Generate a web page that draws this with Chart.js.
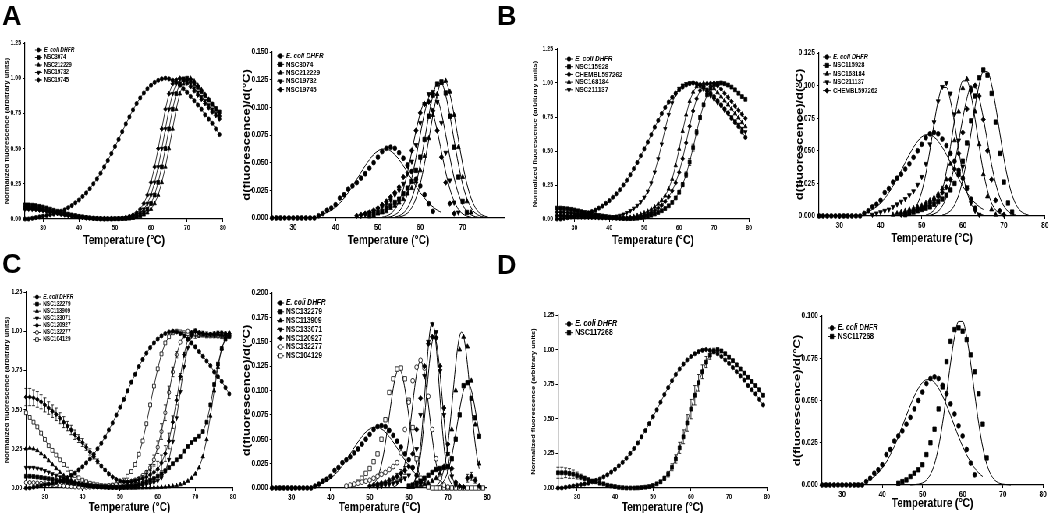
<!DOCTYPE html>
<html><head><meta charset="utf-8">
<script src="https://cdn.jsdelivr.net/npm/chart.js@4.4.1/dist/chart.umd.min.js"></script>
<style>
html,body{margin:0;padding:0;background:#fff}
body{width:1050px;height:513px;overflow:hidden;position:relative}
#sq{position:absolute;left:0;top:0;width:1347px;height:513px;transform:scaleX(0.78);transform-origin:0 0}
.pl{position:absolute;font-family:'Liberation Sans',Arial,sans-serif;font-weight:bold;font-size:27px;line-height:27px;color:#000}
</style></head><body>
<div id="sq"></div>
<div class="pl" style="left:2px;top:3px">A</div>
<div class="pl" style="left:497px;top:3px">B</div>
<div class="pl" style="left:2px;top:251px">C</div>
<div class="pl" style="left:497px;top:252px">D</div>
<script>
const SQ = 0.78;
const FONT = "'Liberation Sans', Arial, Helvetica, sans-serif";

// ---------- categories / ticks ----------
const temps = [25,26,27,28,29,30,31,32,33,34,35,36,37,38,39,40,41,42,43,44,45,46,47,48,49,50,51,52,53,54,55,56,57,58,59,60,61,62,63,64,65,66,67,68,69,70,71,72,73,74,75,76,77,78,79];
const xTicks = [30,40,50,60,70,80];
const xTicksA = [30,40,50,60,70];
const normTicks = [0,0.25,0.5,0.75,1,1.25];
const derTicksA = [0,0.025,0.05,0.075,0.1,0.125,0.15];
const derTicksB = [0,0.025,0.05,0.075,0.1,0.125];
const derTicksC = [0,0.025,0.05,0.075,0.1,0.125,0.15,0.175,0.2];
const derTicksD = [0,0.025,0.05,0.075,0.1];
const NORM_T = 'Normalized fluorescence (arbitrary units)';
const DER_T = 'd(fluorescence)/d(°C)';
const X_T = 'Temperature (°C)';
const DHFR = 'E. coli DHFR';

// ---------- E. coli DHFR (control, shared) ----------
const dhfrNorm = [0,0,.005,.01,.015,.02,.025,.03,.035,.045, .055,.065,.08,.095,.115,.135,.16,.185,.215,.25, .285,.325,.37,.415,.465,.515,.565,.62,.675,.725, .775,.82,.86,.895,.925,.95,.97,.985,.995,1.0, .995,.985,.97,.95,.925,.9,.87,.84,.81,.78, .74,.71,.68,.64,.6];
const dhfrDerFrom = 25;
const dhfrDer = [0,0,0,0,0,0,0,0,0,0,0, .002,.004,.007,.009,.012,.018,.021,.026,.029,.032,.036,.040,.045,.050,.055,.060,.063,.064,.063,.059,.054,.048,.042,.035,.029,.021,.013,.006];
const dhfrFitFrom = 36;
const dhfrFit = [.0022,.0034,.0050,.0071,.0100,.0135,.0179,.0229,.0286,.0348,.0411,.0472,.0527,.0573,.0606,.0623,.0623,.0606,.0573,.0527,.0472,.0411,.0348,.0286,.0229,.0179,.0135,.0100,.0071,.0050];

// ---------- Panel A ----------
const aNorm3074 = [.100,.100,.098,.095,.090,.085,.078,.070,.062,.055, .048,.041,.035,.029,.024,.019,.015,.011,.008,.005, .003,.002,.001,.001,.001,.002,.002,.003,.004,.007, .012,.02,.03,.045,.07,.11,.17,.26,.37,.50, .64,.78,.89,.96,.99,1.0,.985,.96,.935,.905, .875,.845,.815,.785,.76];
const aNorm212229 = [.080,.080,.078,.076,.072,.068,.062,.056,.050,.044, .038,.033,.028,.023,.019,.015,.012,.009,.006,.004, .003,.002,.001,.001,.001,.001,.002,.002,.003,.004, .007,.012,.02,.03,.045,.07,.11,.17,.26,.37, .50,.64,.78,.89,.96,.99,1.0,.98,.95,.92, .885,.85,.815,.775,.74];
const aNorm19732 = [.080,.080,.078,.076,.072,.068,.062,.056,.050,.044, .038,.033,.028,.023,.019,.015,.012,.009,.006,.004, .003,.002,.002,.002,.002,.003,.003,.004,.007,.012, .02,.03,.045,.07,.11,.17,.26,.37,.50,.64, .78,.89,.96,.99,1.0,.985,.96,.93,.90,.87, .84,.81,.78,.75,.72];
const aNorm19745 = [.070,.070,.069,.067,.063,.060,.055,.049,.043,.039, .034,.029,.025,.020,.017,.013,.011,.008,.006,.004, .003,.002,.002,.002,.003,.003,.004,.007,.012,.02, .03,.045,.07,.11,.17,.26,.37,.50,.64,.78, .89,.96,.99,1.0,.985,.965,.94,.91,.88,.85, .82,.79,.76,.735,.71];
const aDer3074From = 48,  aDer3074 = [.002,.004,.005,.006,.009,.011,.014,.017,.022,.027,.033,.043,.055,.071,.092,.111,.121,.123,.113,.092,.064,.037,.015,.005];
const aDer212229From = 49, aDer212229 = [.002,.004,.005,.006,.009,.011,.014,.017,.022,.027,.033,.043,.056,.072,.093,.112,.122,.124,.114,.093,.064,.037,.015,.005];
const aDer19732From = 46, aDer19732 = [.002,.003,.005,.006,.008,.010,.013,.016,.021,.025,.031,.040,.051,.066,.086,.103,.112,.114,.105,.086,.059,.034,.014,.005];
const aDer19745From = 45, aDer19745 = [.002,.003,.004,.005,.007,.009,.012,.015,.019,.023,.028,.037,.047,.061,.079,.095,.103,.105,.097,.079,.055,.032,.013,.004];
const aFit3074From = 54, aFit3074 = [.0008,.0020,.0044,.0093,.0177,.0306,.0486,.0701,.0923,.1109,.1216,.1216,.1109,.0923,.0701,.0486,.0306,.0177,.0093,.0044,.0020,.0008];
const aFit212229From = 55, aFit212229 = [.0008,.0020,.0045,.0094,.0179,.0309,.0490,.0707,.0930,.1118,.1226,.1226,.1118,.0930,.0707,.0490,.0309,.0179,.0094,.0045,.0020,.0008];
const aFit19732From = 52, aFit19732 = [.0004,.0012,.0028,.0060,.0120,.0219,.0361,.0547,.0755,.0948,.1089,.1140,.1089,.0948,.0755,.0547,.0361,.0219,.0120,.0060,.0028,.0012,.0004];
const aFit19745From = 51, aFit19745 = [.0007,.0017,.0038,.0079,.0151,.0261,.0415,.0599,.0788,.0947,.1038,.1038,.0947,.0788,.0599,.0415,.0261,.0151,.0079,.0038,.0017,.0007];

// ---------- Panel B ----------
const bNorm115928 = [.080,.080,.078,.075,.071,.066,.060,.054,.048,.042, .036,.031,.026,.022,.018,.014,.011,.008,.006,.004, .003,.003,.004,.006,.010,.015,.021,.028,.037,.048, .061,.077,.097,.122,.155,.197,.253,.326,.419,.525, .638,.746,.840,.913,.961,.987,.997,1.0,.995,.985, .97,.95,.925,.90,.88];
const bErr115928 = [0,0,0,0,0,0,0,0,0,0, 0,0,0,0,0,0,0,0,0,0, 0,0,0,0,0,0,0,0,0,0, 0,0,0,0,0,.01,.015,.02,.025,.025, .02,.015,0,0,0,0,0,0,0,0, 0,0,0,0,0];
const bNormChembl = [.050,.050,.049,.047,.044,.041,.038,.034,.030,.026, .023,.020,.017,.014,.012,.010,.008,.006,.005,.004, .004,.005,.007,.012,.018,.026,.035,.048,.062,.080, .102,.129,.163,.207,.266,.343,.443,.560,.682,.794, .884,.945,.979,.994,.999,1.0,.98,.955,.925,.895, .865,.83,.80,.77,.74];
const bNorm168184 = [.030,.030,.029,.028,.026,.024,.022,.020,.018,.016, .014,.012,.010,.008,.007,.006,.005,.005,.005,.006, .008,.012,.019,.026,.035,.045,.057,.072,.089,.111, .137,.171,.221,.293,.393,.514,.645,.766,.866,.934, .974,.993,.999,1.0,.985,.96,.93,.90,.87,.84, .81,.775,.745,.71,.68];
const bNorm211137 = [.020,.020,.020,.019,.018,.017,.016,.015,.014,.013, .012,.011,.010,.010,.010,.012,.015,.020,.026,.035, .046,.061,.078,.099,.126,.159,.203,.264,.344,.441, .550,.663,.767,.853,.917,.959,.983,.994,1.0,1.0, .99,.975,.955,.93,.905,.88,.855,.83,.80,.775, .75,.72,.695,.665,.64];
const bDer115928From = 46, bDer115928 = [.001,.002,.003,.004,.005,.006,.007,.009,.011,.013,.016,.020,.025,.032,.042,.056,.073,.092,.106,.112,.108,.094,.072,.048,.026,.010,.003];
const bDer168184From = 43, bDer168184 = [.001,.002,.003,.004,.005,.006,.007,.008,.010,.012,.014,.017,.021,.028,.040,.058,.080,.098,.105,.098,.080,.055,.032,.015,.005,.001];
const bDer211137From = 38, bDer211137 = [.001,.002,.003,.004,.005,.007,.009,.011,.013,.016,.019,.024,.030,.040,.055,.072,.088,.099,.102,.094,.078,.058,.038,.022,.010,.004,.001];
const bDerChemblFrom = 45, bDerChembl = [.001,.002,.003,.004,.005,.006,.008,.010,.012,.015,.018,.022,.028,.036,.048,.064,.082,.096,.100,.092,.074,.050,.028,.012,.004,.001];
const bFit115928From = 55, bFit115928 = [.0007,.0018,.0040,.0085,.0161,.0279,.0442,.0638,.0840,.1010,.1107,.1107,.1010,.0840,.0638,.0442,.0279,.0161,.0085,.0040,.0018,.0007];
const bFit168184From = 51, bFit168184 = [.0007,.0019,.0046,.0100,.0196,.0341,.0532,.0742,.0927,.1036,.1036,.0927,.0742,.0532,.0341,.0196,.0100,.0046,.0019,.0007];
const bFit211137From = 46, bFit211137 = [.0007,.0018,.0044,.0096,.0186,.0325,.0506,.0707,.0883,.0986,.0986,.0883,.0707,.0506,.0325,.0186,.0096,.0044,.0018,.0007];
const bFitChemblFrom = 52, bFitChembl = [.0006,.0016,.0036,.0076,.0144,.0249,.0395,.0570,.0750,.0902,.0989,.0989,.0902,.0750,.0570,.0395,.0249,.0144,.0076,.0036,.0016,.0006];

// ---------- Panel C ----------
const cNorm132279 = [.075,.075,.073,.070,.067,.063,.059,.055,.050,.046, .042,.037,.033,.029,.025,.021,.018,.015,.012,.010, .008,.006,.005,.005,.005,.006,.008,.010,.013,.017, .022,.030,.040,.050,.060,.075,.090,.110,.130,.155, .180,.200,.235,.265,.290,.310,.330,.360,.420,.530, .660,.790,.890,.950,.970];
const cNorm113909 = [.25,.255,.25,.24,.22,.20,.175,.15,.125,.10, .08,.065,.05,.04,.03,.023,.017,.012,.009,.006, .004,.003,.002,.001,.001,0,0,0,0,0, .001,.001,.002,.002,.003,.004,.005,.007,.009,.012, .016,.022,.03,.044,.063,.09,.13,.20,.31,.46, .62,.77,.89,.96,.99];
const cNorm133071 = [.13,.13,.13,.125,.12,.11,.10,.09,.08,.07, .06,.05,.042,.035,.028,.022,.017,.013,.010,.008, .006,.005,.004,.004,.004,.004,.005,.006,.008,.010, .013,.017,.022,.028,.036,.046,.066,.106,.181,.296, .446,.614,.774,.894,.969,1.0,.99,.985,.98,.98, .975,.975,.97,.97,.97];
const cNorm120927 = [.58,.58,.575,.565,.55,.53,.51,.49,.47,.445, .42,.395,.37,.34,.315,.29,.26,.23,.20,.17, .14,.115,.09,.07,.055,.045,.04,.038,.04,.045, .052,.06,.07,.085,.10,.12,.16,.22,.30,.42, .56,.71,.85,.95,.99,1.0,.99,.985,.98,.98, .985,.99,.99,.985,.985];
const cErr120927 = [.055,.055,.05,.05,.045,.045,.04,.04,.04,.035, .035,.03,.03,.03,.025,.025,.02,.02,.015,.015, .01,.01,.01,.005,.005,.005,.005,.005,.005,.01, .015,.02,.025,.03,.04,.05,.05,.05,.05,.04, .03,.02,.015,.01,.01,.01,.01,.015,.015,.01, .01,.01,.01,.01,.01];
const cNorm132277 = [.035,.035,.034,.032,.030,.028,.025,.022,.019,.016, .013,.011,.009,.007,.006,.005,.005,.005,.006,.007, .009,.011,.014,.017,.021,.025,.030,.036,.043,.051, .06,.08,.10,.13,.18,.26,.36,.48,.61,.74, .85,.93,.98,1.0,.99,.985,.98,.98,.975,.975, .975,.97,.97,.97,.97];
const cErr132277 = [0,0,0,0,0,0,0,0,0,0, 0,0,0,0,0,0,0,0,0,0, 0,0,0,0,0,0,0,0,0,0, 0,0,.01,.02,.03,.04,.05,.05,.04,.03, .02,0,0,0,0,.03,.02,0,0,0, 0,0,0,0,0];
const cNorm104129 = [.48,.45,.42,.39,.35,.31,.27,.24,.21,.18, .15,.12,.10,.08,.065,.05,.04,.03,.025,.02, .015,.013,.014,.018,.025,.035,.05,.075,.105,.15, .215,.30,.41,.53,.65,.76,.855,.925,.965,.99, 1.0,.995,.99,.985,.98,.98,.975,.975,.97,.97, .97,.97,.965,.965,.965];
const cDer132279From = 60, cDer132279 = [.002,.003,.005,.007,.010,.013,.016,.019,.020,.021,.022,.030,.050,.075,.105,.108,.092,.072,.053];
const cDer113909From = 60, cDer113909 = [.001,.001,.002,.003,.004,.005,.007,.010,.015,.022,.035,.060,.100,.142,.155,.145,.110,.065,.025];
const cDer133071From = 52, cDer133071 = [.001,.002,.003,.004,.005,.006,.008,.010,.013,.020,.040,.075,.115,.150,.168,.160,.120,.075,.035,.012,.003];
const cDer120927From = 50, cDer120927 = [.002,.003,.004,.005,.006,.008,.010,.012,.015,.018,.022,.035,.060,.092,.125,.148,.155,.154,.125,.082,.045,.020,.006,.002,.001,.010,.012,.008,.002];
const cDerErr120927 = [0,0,0,0,0,0,0,.003,.004,.004,0,0,0,0,0,0,0,0,0,0,0,0,0,0,0,.004,.004,.003,0];
const cDer132277From = 44, cDer132277 = [.002,.003,.004,.005,.006,.007,.008,.010,.012,.014,.016,.019,.022,.026,.036,.060,.088,.110,.124,.131,.123,.094,.060,.030,.010,.003,.001];
const cDer104129From = 46, cDer104129 = [.003,.006,.010,.015,.020,.027,.035,.050,.070,.098,.112,.122,.123,.112,.090,.062,.030,.010,.003,.001,0,0,0,0,0,0,0,0,0,0,0,0,0,0];
const cFit132279From = 67, cFit132279 = [.0010,.0017,.0029,.0048,.0075,.0115,.0170,.0242,.0331,.0437,.0555,.0680,.0803,.0914,.1003,.1060,.1080,.1060,.1003,.0914,.0803,.0680,.0555];
const cFit113909From = 66.5, cFit113909 = [.0010,.0020,.0039,.0070,.0121,.0198,.0307,.0452,.0632,.0839,.1058,.1268,.1443,.1559,.1600,.1559,.1443,.1268,.1058,.0839,.0632,.0452,.0307,.0198];
const cFit133071From = 60, cFit133071 = [.0007,.0016,.0036,.0075,.0144,.0257,.0424,.0648,.0917,.1201,.1457,.1636,.1700,.1636,.1457,.1201,.0917,.0648,.0424,.0257,.0144,.0075,.0036,.0016,.0007];
const cFit120927From = 59.5, cFit120927 = [.0003,.0008,.0017,.0035,.0068,.0123,.0210,.0335,.0503,.0710,.0940,.1170,.1368,.1502,.1550,.1502,.1368,.1170,.0940,.0710,.0503,.0335,.0210,.0123,.0068,.0035,.0017,.0008,.0003];
const cFit132277From = 56, cFit132277 = [.0008,.0017,.0032,.0057,.0098,.0161,.0249,.0367,.0514,.0682,.0860,.1030,.1172,.1267,.1300,.1267,.1172,.1030,.0860,.0682,.0514,.0367,.0249,.0161,.0098,.0057,.0032,.0017,.0008];
const cFit104129From = 49.5, cFit104129 = [.0007,.0014,.0024,.0041,.0068,.0108,.0165,.0241,.0339,.0458,.0594,.0740,.0886,.1019,.1126,.1196,.1220,.1196,.1126,.1019,.0886,.0740,.0594,.0458,.0339,.0241,.0165,.0108,.0068,.0041,.0024,.0014,.0007];

// ---------- Panel D ----------
const dNorm117268 = [.11,.11,.11,.105,.10,.09,.08,.07,.06,.05, .045,.035,.03,.02,.015,.01,.005,.002,0,0, 0,.001,.003,.006,.01,.018,.03,.045,.07,.10, .15,.21,.29,.37,.47,.57,.67,.76,.84,.91, .96,.99,1.0,.99,.97,.945,.92,.89,.86,.83, .80,.77,.74,.71,.67];
const dErr117268 = [.04,.04,.035,.035,.03,.025,.02,.015,.01,.01, .01,.01,.005,.005,.005,.005,0,0,0,0, 0,0,0,0,0,.005,.005,.01,.015,.02, .025,.03,.04,.05,.06,.07,.07,.06,.05,.04, .03,.02,.01,.01,.01,.01,.01,.01,.01,.01, .01,.01,.01,.01,.01];
const dDer117268From = 44, dDer117268 = [.001,.002,.003,.005,.007,.009,.012,.018,.025,.033,.045,.058,.073,.085,.092,.093,.091,.086,.077,.067,.054,.036,.016];
const dFit117268From = 47, dFit117268 = [.0000,.0002,.0005,.0012,.0029,.0063,.0124,.0224,.0365,.0539,.0722,.0878,.0968,.0968,.0878,.0722,.0539,.0365,.0224,.0124,.0063,.0029,.0012,.0005,.0002,.0000];

// ---------- helpers ----------
const STY = {
  circle:{ps:'circle',rot:0,fill:'#000',k:1},
  square:{ps:'rect',rot:0,fill:'#000',k:1.3},
  tri:{ps:'triangle',rot:0,fill:'#000',k:1.2},
  inv:{ps:'triangle',rot:180,fill:'#000',k:1.2},
  diamond:{ps:'rectRot',rot:0,fill:'#000',k:1.15},
  ocircle:{ps:'circle',rot:0,fill:'#fff',k:1},
  osquare:{ps:'rect',rot:0,fill:'#fff',k:1.3}
};
function onTemps(vals){ return vals.map((v,i)=>({x:temps[i],y:v})); }
function fromT(t0, step, vals){ return vals.map((v,i)=>({x:t0+i*step,y:v})); }
function markerDs(label, sty, data, r, showLine, err){
  const s = STY[sty];
  return {label, legendText:label, legendItalic:label===DHFR, sty, data, showLine,
    borderColor:'#000', borderWidth:0.8, pointStyle:s.ps, pointRotation:s.rot,
    pointRadius:r*s.k, pointBackgroundColor:s.fill, pointBorderColor:'#000', pointBorderWidth:0.8,
    pointHoverRadius:0, tension:0, clip:false, fill:false, errorBars:err||null};
}
function normDs(label, sty, vals, err){ return markerDs(label, sty, onTemps(vals), 2.1, true, err); }
function scatDs(label, sty, from, vals, err){ return markerDs(label, sty, fromT(from,1,vals), 2.4, false, err); }
function fitDs(from, step, vals){
  return {label:'fit', data:fromT(from,step,vals), showLine:true, borderColor:'#000', borderWidth:1,
    pointRadius:0, pointHoverRadius:0, cubicInterpolationMode:'monotone', clip:false, fill:false};
}
function drawMarker(ctx, s, r, x, y){
  const R = r*s.k;
  ctx.save(); ctx.translate(x,y); ctx.rotate(s.rot*Math.PI/180);
  ctx.beginPath();
  if (s.ps==='circle') ctx.arc(0,0,R,0,Math.PI*2);
  else if (s.ps==='rect'){ const h=R*Math.SQRT1_2; ctx.rect(-h,-h,2*h,2*h); }
  else if (s.ps==='rectRot'){ ctx.moveTo(0,-R); ctx.lineTo(R,0); ctx.lineTo(0,R); ctx.lineTo(-R,0); ctx.closePath(); }
  else { ctx.moveTo(0,-R); ctx.lineTo(R*0.866,R*0.5); ctx.lineTo(-R*0.866,R*0.5); ctx.closePath(); }
  ctx.fillStyle=s.fill; ctx.fill(); ctx.lineWidth=0.8; ctx.strokeStyle='#000'; ctx.stroke();
  ctx.restore();
}
const insideLegend = {
  id:'insideLegend',
  afterDraw(chart, args, o){
    if (!o || !o.on) return;
    const ctx = chart.ctx; ctx.save();
    let y = o.y;
    chart.data.datasets.forEach(ds=>{
      if (!ds.legendText) return;
      ctx.strokeStyle='#000'; ctx.lineWidth=0.9;
      ctx.beginPath(); ctx.moveTo(o.x,y); ctx.lineTo(o.x+o.len,y); ctx.stroke();
      drawMarker(ctx, STY[ds.sty], o.r, o.x+o.len/2, y);
      ctx.fillStyle='#000';
      ctx.font=(ds.legendItalic?'italic ':'')+'bold '+o.size+'px '+FONT;
      ctx.textAlign='left'; ctx.textBaseline='middle';
      ctx.fillText(ds.legendText, o.x+o.len+o.gap, y);
      y += o.dy;
    });
    ctx.restore();
  }
};
const errorBars = {
  id:'errorBars',
  afterDatasetsDraw(chart){
    const ctx = chart.ctx, xs = chart.scales.x, ys = chart.scales.y;
    ctx.save(); ctx.strokeStyle='#000'; ctx.lineWidth=0.8;
    chart.data.datasets.forEach(ds=>{
      if (!ds.errorBars) return;
      ds.data.forEach((p,i)=>{
        const e = ds.errorBars[i]; if (!e) return;
        const x = xs.getPixelForValue(p.x);
        const y1 = ys.getPixelForValue(p.y-e), y2 = ys.getPixelForValue(p.y+e);
        ctx.beginPath();
        ctx.moveTo(x,y1); ctx.lineTo(x,y2);
        ctx.moveTo(x-2,y1); ctx.lineTo(x+2,y1);
        ctx.moveTo(x-2,y2); ctx.lineTo(x+2,y2);
        ctx.stroke();
      });
    });
    ctx.restore();
  }
};

function build(spec){
  const g = spec.g;
  const padT = 10, padR = 14;
  const left = Math.round(g.tx/SQ - 0.6*spec.yTS);
  const yAxisW = g.x0/SQ - left;
  const plotW = (g.x1-g.x0)/SQ;
  const width = Math.ceil(yAxisW + plotW + padR);
  const top = Math.round(g.yTop - padT);
  const height = Math.round(g.ty + 0.6*spec.xTS - top);
  const chartTop = g.yTop - top;
  const xAxisH = height - (g.yBot - top);
  const padRight = width - yAxisW - plotW;
  const c = document.createElement('canvas');
  c.width = width; c.height = height;
  c.style.cssText = 'position:absolute;left:'+left+'px;top:'+top+'px;width:'+width+'px;height:'+height+'px';
  document.getElementById('sq').appendChild(c);
  const lg = spec.leg;
  const tickFont = {family:FONT, size:spec.tick, weight:'bold'};
  const grid = {display:true, drawOnChartArea:false, drawTicks:true, tickLength:3, color:'#000', lineWidth:1};
  const border = {display:true, color:'#000', width:1.2};
  new Chart(c, {
    type:'line',
    data:{datasets:spec.datasets},
    options:{
      responsive:false, animation:false, devicePixelRatio:1, events:[],
      layout:{padding:{left:0, top:chartTop, right:padRight, bottom:0}, autoPadding:false},
      plugins:{legend:{display:false}, tooltip:{enabled:false},
        insideLegend:{on:true, x:lg.x/SQ-left, y:lg.y-top, dy:lg.dy, size:lg.size, len:lg.len/SQ, gap:2/SQ, r:lg.r}},
      scales:{
        x:{type:'linear', min:25, max:80,
          afterBuildTicks:s=>{ s.ticks = spec.xTicks.map(v=>({value:v})); },
          afterFit:s=>{ s.height = xAxisH; },
          ticks:{font:tickFont, color:'#000', padding:2, maxRotation:0, autoSkip:false, callback:v=>String(v)},
          grid, border,
          title:{display:true, text:X_T, color:'#000', padding:0, font:{family:FONT, size:spec.xTS, weight:'bold'}}},
        y:{type:'linear', min:0, max:spec.yMax,
          afterBuildTicks:s=>{ s.ticks = spec.yTicks.map(v=>({value:v})); },
          afterFit:s=>{ s.width = yAxisW; },
          ticks:{font:tickFont, color:'#000', padding:2, autoSkip:false, callback:v=>v.toFixed(spec.dec)},
          grid, border,
          title:{display:true, text:spec.yTitle, color:'#000', padding:0, font:{family:FONT, size:spec.yTS, weight:'bold'}}}
      }
    },
    plugins:[insideLegend, errorBars]
  });
}

const dhfrN = () => normDs(DHFR, 'circle', dhfrNorm);
const dhfrS = () => scatDs(DHFR, 'circle', dhfrDerFrom, dhfrDer);
const dhfrF = () => fitDs(dhfrFitFrom, 1, dhfrFit);

const specs = [
  { g:{x0:25,x1:223,yTop:43,yBot:219,tx:7,ty:240}, yMax:1.25, yTicks:normTicks, dec:2, xTicks:xTicks, tick:7,
    yTitle:NORM_T, yTS:7.5, xTS:13, leg:{x:35,y:50,dy:7.5,size:6.5,len:7,r:2},
    datasets:[dhfrN(), normDs('NSC3074','square',aNorm3074), normDs('NSC212229','tri',aNorm212229),
      normDs('NSC19732','inv',aNorm19732), normDs('NSC19745','diamond',aNorm19745)] },
  { g:{x0:272,x1:505,yTop:52,yBot:218,tx:247,ty:240}, yMax:0.15, yTicks:derTicksA, dec:3, xTicks:xTicksA, tick:8.5,
    yTitle:DER_T, yTS:13, xTS:13, leg:{x:277,y:56,dy:8.4,size:8,len:7,r:2.3},
    datasets:[dhfrS(), scatDs('NSC3074','square',aDer3074From,aDer3074), scatDs('NSC212229','tri',aDer212229From,aDer212229),
      scatDs('NSC19732','inv',aDer19732From,aDer19732), scatDs('NSC19745','diamond',aDer19745From,aDer19745),
      dhfrF(), fitDs(aFit3074From,1,aFit3074), fitDs(aFit212229From,1,aFit212229), fitDs(aFit19732From,1,aFit19732), fitDs(aFit19745From,1,aFit19745)] },
  { g:{x0:557,x1:749,yTop:49,yBot:219,tx:535,ty:240}, yMax:1.25, yTicks:normTicks, dec:2, xTicks:xTicks, tick:7,
    yTitle:NORM_T, yTS:7.5, xTS:13, leg:{x:565,y:59,dy:7.7,size:8,len:8,r:2.2},
    datasets:[dhfrN(), normDs('NSC115928','square',bNorm115928,bErr115928), normDs('CHEMBL597262','diamond',bNormChembl),
      normDs('NSC168184','tri',bNorm168184), normDs('NSC211137','inv',bNorm211137)] },
  { g:{x0:819,x1:1045,yTop:53,yBot:216,tx:800,ty:238}, yMax:0.125, yTicks:derTicksB, dec:3, xTicks:xTicks, tick:8.5,
    yTitle:DER_T, yTS:13, xTS:13, leg:{x:823,y:57,dy:8.4,size:7.5,len:8,r:2.3},
    datasets:[dhfrS(), scatDs('NSC115928','square',bDer115928From,bDer115928), scatDs('NSC168184','tri',bDer168184From,bDer168184),
      scatDs('NSC211137','inv',bDer211137From,bDer211137), scatDs('CHEMBL597262','diamond',bDerChemblFrom,bDerChembl),
      dhfrF(), fitDs(bFit115928From,1,bFit115928), fitDs(bFit168184From,1,bFit168184), fitDs(bFit211137From,1,bFit211137), fitDs(bFitChemblFrom,1,bFitChembl)] },
  { g:{x0:26,x1:233,yTop:292,yBot:488,tx:7,ty:507}, yMax:1.25, yTicks:normTicks, dec:2, xTicks:xTicks, tick:7,
    yTitle:NORM_T, yTS:7.5, xTS:13, leg:{x:33,y:297,dy:7.1,size:6.5,len:8,r:2},
    datasets:[dhfrN(), normDs('NSC132279','square',cNorm132279), normDs('NSC113909','tri',cNorm113909),
      normDs('NSC133071','inv',cNorm133071), normDs('NSC120927','diamond',cNorm120927,cErr120927),
      normDs('NSC132277','ocircle',cNorm132277,cErr132277), normDs('NSC104129','osquare',cNorm104129)] },
  { g:{x0:272,x1:487,yTop:293,yBot:488,tx:247,ty:507}, yMax:0.2, yTicks:derTicksC, dec:3, xTicks:xTicks, tick:8.5,
    yTitle:DER_T, yTS:13, xTS:13, leg:{x:277,y:303,dy:8.8,size:8.5,len:7,r:2.3},
    datasets:[dhfrS(), scatDs('NSC132279','square',cDer132279From,cDer132279), scatDs('NSC113909','tri',cDer113909From,cDer113909),
      scatDs('NSC133071','inv',cDer133071From,cDer133071), scatDs('NSC120927','diamond',cDer120927From,cDer120927,cDerErr120927),
      scatDs('NSC132277','ocircle',cDer132277From,cDer132277), scatDs('NSC104129','osquare',cDer104129From,cDer104129),
      dhfrF(), fitDs(cFit132279From,0.5,cFit132279), fitDs(cFit113909From,0.5,cFit113909), fitDs(cFit133071From,0.5,cFit133071),
      fitDs(cFit120927From,0.5,cFit120927), fitDs(cFit132277From,0.5,cFit132277), fitDs(cFit104129From,0.5,cFit104129)] },
  { g:{x0:558,x1:767,yTop:315,yBot:488,tx:533,ty:507}, yMax:1.25, yTicks:normTicks, dec:2, xTicks:xTicks, tick:7,
    yTitle:NORM_T, yTS:7.5, xTS:13, leg:{x:565,y:324,dy:8.7,size:9,len:8,r:2.4},
    datasets:[dhfrN(), normDs('NSC117268','square',dNorm117268,dErr117268)] },
  { g:{x0:822,x1:1043,yTop:316,yBot:485,tx:798,ty:503}, yMax:0.1, yTicks:derTicksD, dec:3, xTicks:xTicks, tick:8.5,
    yTitle:DER_T, yTS:13, xTS:13, leg:{x:828,y:328,dy:8.5,size:8.5,len:8,r:2.4},
    datasets:[dhfrS(), scatDs('NSC117268','square',dDer117268From,dDer117268), dhfrF(), fitDs(dFit117268From,1,dFit117268)] }
];
specs.forEach(build);
</script>
</body></html>
